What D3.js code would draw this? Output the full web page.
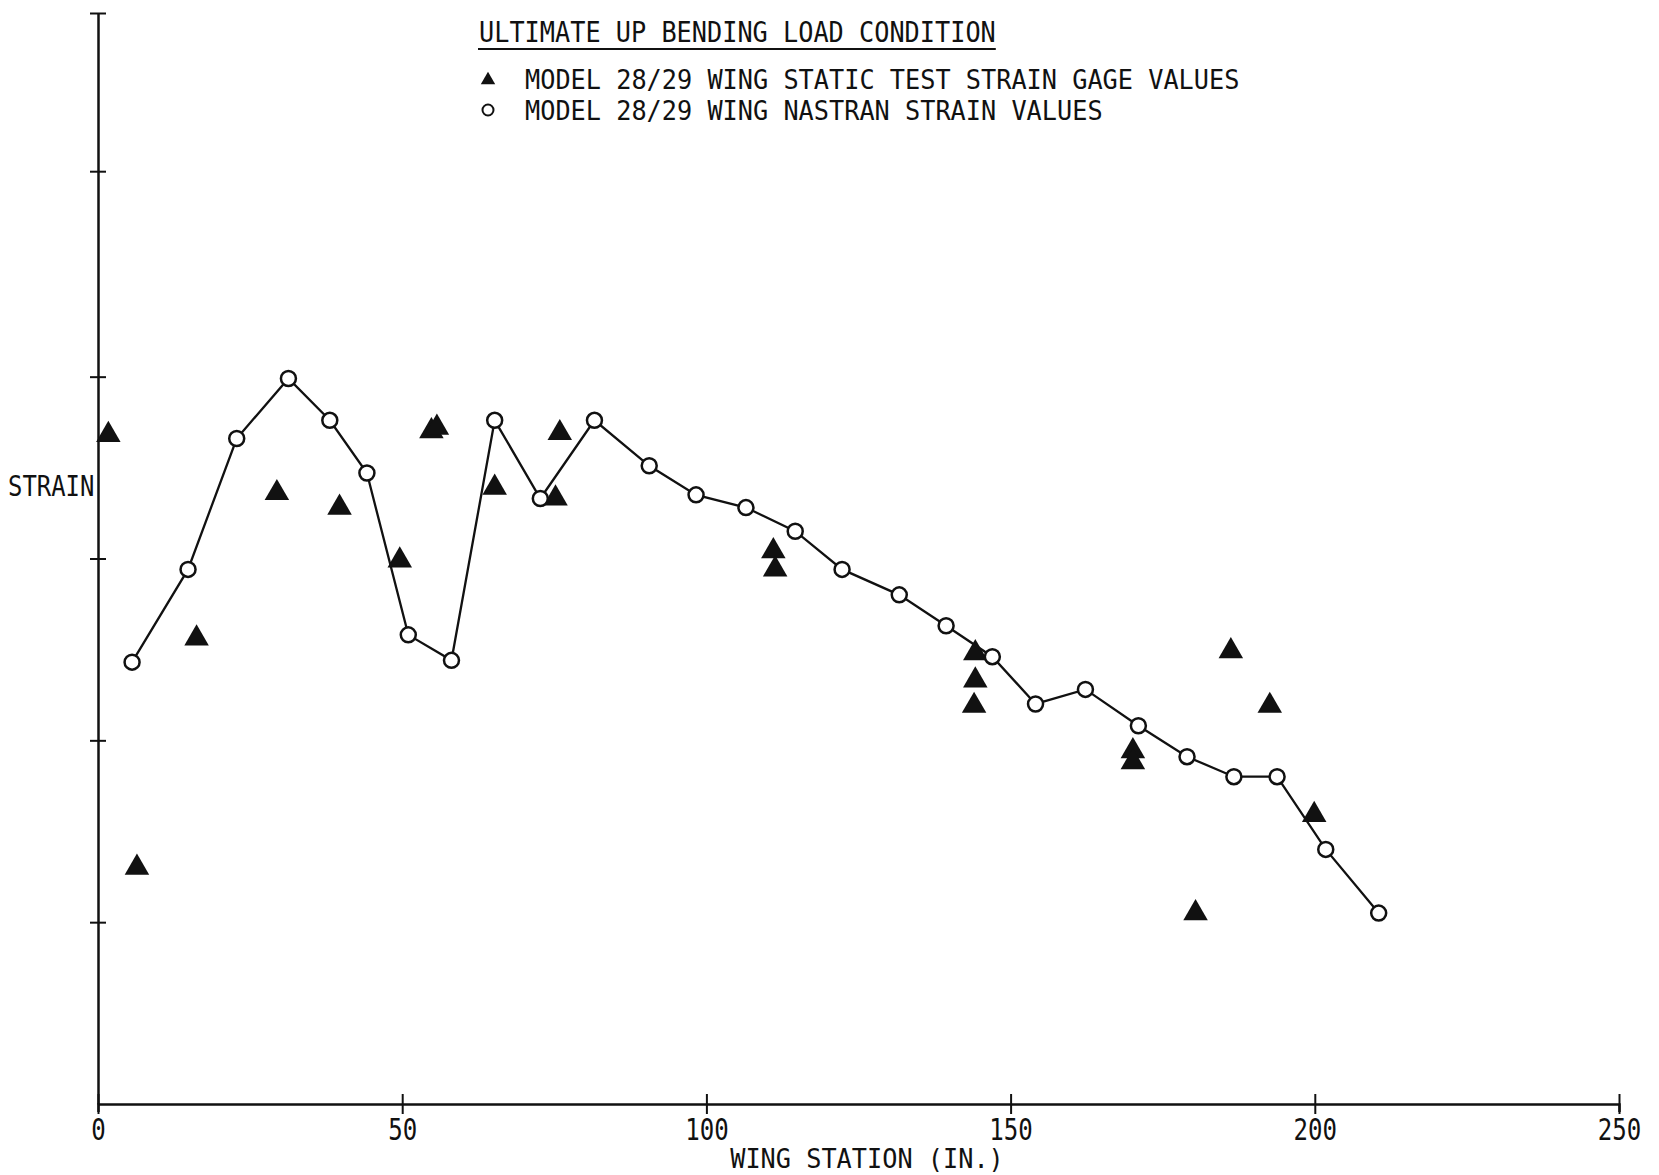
<!DOCTYPE html>
<html>
<head>
<meta charset="utf-8">
<script src="https://cdn.jsdelivr.net/npm/d3@7"></script>
<style>
  body { margin: 0; background: #fff; }
  text { font-family: "DejaVu Sans Mono", monospace; fill: #111; }
</style>
</head>
<body>
<div id="fig"></div>
<script>
// wing station (in.) and strain (no units on the original axis)
const nastranStation = [5.6, 14.8, 22.8, 31.3, 38.1, 44.2, 51.0, 58.1, 65.2, 72.7, 81.6, 90.6, 98.3, 106.5,
                        114.6, 122.3, 131.7, 139.4, 147.0, 154.1, 162.3, 171.0, 179.0, 186.7, 193.8, 201.8, 210.5]
const nastranStrain = [2.43, 2.94, 3.66, 3.99, 3.76, 3.47, 2.58, 2.44, 3.76, 3.33, 3.76, 3.51, 3.35, 3.28,
                       3.15, 2.94, 2.80, 2.63, 2.46, 2.20, 2.28, 2.08, 1.91, 1.80, 1.80, 1.40, 1.05]

const gageStation = [1.7, 6.4, 16.2, 29.4, 39.7, 49.6, 54.8, 55.7, 65.2, 75.2, 75.9, 111.0, 111.3,
                     144.2, 144.2, 144.0, 170.1, 170.1, 180.4, 186.2, 192.6, 199.9]
const gageStrain = [3.68, 1.30, 2.56, 3.36, 3.28, 2.99, 3.70, 3.72, 3.39, 3.33, 3.69, 3.04, 2.94,
                    2.48, 2.33, 2.19, 1.94, 1.88, 1.05, 2.49, 2.19, 1.59]

const xTicks = [0, 50, 100, 150, 200, 250]
const yTicks = [1, 2, 3, 4, 5.13, 6]

const titleText = 'ULTIMATE UP BENDING LOAD CONDITION'
const legendText = ['MODEL 28/29 WING STATIC TEST STRAIN GAGE VALUES', 'MODEL 28/29 WING NASTRAN STRAIN VALUES']

const width = 1659
const height = 1175
const charW = 15.2

const svg = d3.select('#fig').append('svg')
    .attr('width', width)
    .attr('height', height)

const x = d3.scaleLinear().domain([0, 250]).range([98, 1619])
const y = d3.scaleLinear().domain([0, 6]).range([1104, 13])

// x axis
const gx = svg.append('g')
    .attr('transform', `translate(0,${y(0)})`)
    .call(d3.axisBottom(x).tickValues(xTicks).tickSizeOuter(0).tickSize(8))
gx.select('.domain').attr('stroke', '#111').attr('stroke-width', 2.5)
gx.selectAll('.tick line').attr('y1', -10).attr('y2', 10).attr('stroke', '#111').attr('stroke-width', 2)
gx.selectAll('.tick text')
    .attr('y', 36).attr('dy', 0)
    .style('font-size', '30px')
    .attr('textLength', d => String(d).length * 14.5)
    .attr('lengthAdjust', 'spacingAndGlyphs')

// y axis
const gy = svg.append('g')
    .attr('transform', `translate(${x(0)},0)`)
    .call(d3.axisLeft(y).tickValues(yTicks).tickSizeOuter(0).tickFormat(''))
gy.select('.domain').attr('stroke', '#111').attr('stroke-width', 2.5)
gy.selectAll('.tick line').attr('x1', -8).attr('x2', 8).attr('stroke', '#111').attr('stroke-width', 2)

svg.append('text')
    .attr('x', 8).attr('y', 496)
    .style('font-size', '29px')
    .attr('textLength', 6 * 14.4).attr('lengthAdjust', 'spacingAndGlyphs')
    .text('STRAIN')

svg.append('text')
    .attr('x', 867).attr('y', 1168)
    .attr('text-anchor', 'middle')
    .style('font-size', '26px')
    .attr('textLength', 18 * charW).attr('lengthAdjust', 'spacingAndGlyphs')
    .text('WING STATION (IN.)')

// legend
svg.append('text')
    .attr('x', 479).attr('y', 42)
    .style('font-size', '29px')
    .attr('textLength', titleText.length * charW).attr('lengthAdjust', 'spacingAndGlyphs')
    .text(titleText)
svg.append('line')
    .attr('x1', 478).attr('x2', 479 + titleText.length * charW)
    .attr('y1', 49).attr('y2', 49)
    .attr('stroke', '#111').attr('stroke-width', 2)

legendText.forEach((t, i) => {
    svg.append('text')
        .attr('x', 525).attr('y', 89 + i * 31)
        .style('font-size', '27px')
        .attr('textLength', t.length * charW).attr('lengthAdjust', 'spacingAndGlyphs')
        .text(t)
})
svg.append('path')
    .attr('d', d3.symbol(d3.symbolTriangle, 90)())
    .attr('transform', 'translate(488,80)')
    .attr('fill', '#111')
svg.append('circle')
    .attr('cx', 488).attr('cy', 110).attr('r', 5.5)
    .attr('fill', '#fff').attr('stroke', '#111').attr('stroke-width', 2)

// strain gage triangles
const triangle = d3.symbol(d3.symbolTriangle, 260)
svg.selectAll('path.gage')
    .data(gageStation)
    .enter().append('path')
    .attr('class', 'gage')
    .attr('d', triangle())
    .attr('transform', (d, i) => `translate(${x(d)},${y(gageStrain[i])})`)
    .attr('fill', '#111')

// nastran line + circles
const line = d3.line()
    .x(d => x(d))
    .y((d, i) => y(nastranStrain[i]))
svg.append('path')
    .datum(nastranStation)
    .attr('d', line)
    .attr('fill', 'none')
    .attr('stroke', '#111')
    .attr('stroke-width', 2.3)

svg.selectAll('circle.nastran')
    .data(nastranStation)
    .enter().append('circle')
    .attr('class', 'nastran')
    .attr('cx', d => x(d))
    .attr('cy', (d, i) => y(nastranStrain[i]))
    .attr('r', 7.5)
    .attr('fill', '#fff')
    .attr('stroke', '#111')
    .attr('stroke-width', 2.5)
</script>
</body>
</html>
